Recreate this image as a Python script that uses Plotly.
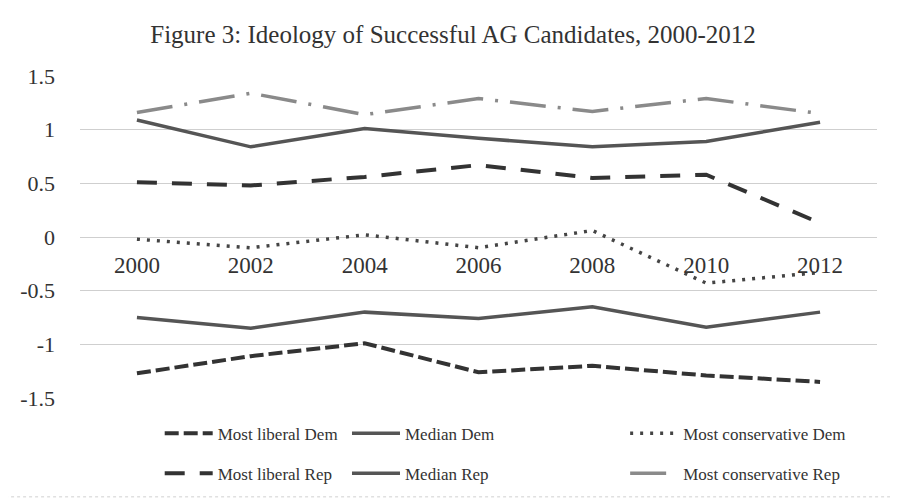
import plotly.graph_objects as go

years = ["2000", "2002", "2004", "2006", "2008", "2010", "2012"]
most_liberal_dem = [-1.27, -1.11, -0.99, -1.26, -1.20, -1.29, -1.35]
median_dem = [-0.75, -0.85, -0.70, -0.76, -0.65, -0.84, -0.70]
most_conservative_dem = [-0.02, -0.10, 0.02, -0.10, 0.06, -0.43, -0.33]
most_liberal_rep = [0.51, 0.48, 0.56, 0.67, 0.55, 0.58, 0.13]
median_rep = [1.09, 0.84, 1.01, 0.92, 0.84, 0.89, 1.07]
most_conservative_rep = [1.16, 1.34, 1.14, 1.29, 1.17, 1.29, 1.15]

FONT = "Liberation Serif, Times New Roman, serif"

series = [
    ("Most liberal Dem", most_liberal_dem, dict(color="#333333", width=4, dash="14px,5px"), "legend", "g1"),
    ("Most liberal Rep", most_liberal_rep, dict(color="#333333", width=4, dash="20px,15px"), "legend", "g2"),
    ("Median Dem", median_dem, dict(color="#555555", width=3.5, dash="solid"), "legend2", "g3"),
    ("Median Rep", median_rep, dict(color="#555555", width=3.5, dash="solid"), "legend2", "g4"),
    ("Most conservative Dem", most_conservative_dem, dict(color="#444444", width=3.5, dash="3px,7px"), "legend3", "g5"),
    ("Most conservative Rep", most_conservative_rep, dict(color="#8a8a8a", width=3.5, dash="36px,12px,3px,12px"), "legend3", "g6"),
]

fig = go.Figure()
for name, vals, line, lg, grp in series:
    fig.add_trace(go.Scatter(x=years, y=vals, name=name, mode="lines", line=line,
                             legend=lg, legendgroup=grp))

legend_common = dict(orientation="v", yanchor="top", y=-0.055, xanchor="left",
                     font=dict(family=FONT, size=17, color="#333333"),
                     bgcolor="rgba(0,0,0,0)", tracegroupgap=15, itemwidth=48,
                     traceorder="grouped")

fig.update_layout(
    width=890, height=494,
    paper_bgcolor="white", plot_bgcolor="white",
    margin=dict(l=72, r=21, t=68, b=104, autoexpand=False),
    title=dict(text="Figure 3: Ideology of Successful AG Candidates, 2000-2012",
               x=0.5, xanchor="center", y=0.947, yanchor="middle",
               font=dict(family=FONT, size=25, color="#333333")),
    font=dict(family=FONT, color="#333333"),
    legend=dict(legend_common, x=0.1),
    legend2=dict(legend_common, x=0.335),
    legend3=dict(legend_common, x=0.684),
    xaxis=dict(type="category", range=[-0.5, 6.5], anchor="free", position=0.5, showgrid=False,
               showline=False, ticks="", ticklabelstandoff=12,
               tickfont=dict(family=FONT, size=23, color="#333333"),
               zeroline=False),
    yaxis=dict(range=[-1.5, 1.5], tickvals=[-1.5, -1, -0.5, 0, 0.5, 1, 1.5],
               ticktext=["-1.5", "-1", "-0.5", "0", "0.5", "1", "1.5"],
               showgrid=True, gridcolor="#cfcfcf", gridwidth=1, zeroline=False,
               showline=False, ticks="", ticklabelstandoff=24,
               tickfont=dict(family=FONT, size=22, color="#333333")),
    shapes=[dict(type="rect", xref="paper", yref="paper", x0=-0.094, x1=1.03,
                 y0=-0.307, y1=1.22, line=dict(color="#d0d0d0", width=1, dash="dot"),
                 layer="below")],
    showlegend=True,
)

fig.write_html("out.html")
